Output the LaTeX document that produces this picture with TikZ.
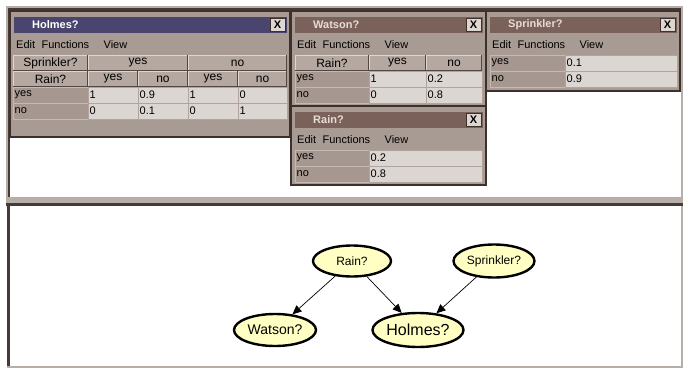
\documentclass[tikz,border=0pt]{standalone}
\usepackage{fontspec}
\setmainfont{Liberation Sans}
\usepackage{xcolor}
\usetikzlibrary{arrows.meta,positioning,shapes.geometric}

\definecolor{winbg}{RGB}{168,155,148}
\definecolor{windark}{RGB}{62,49,44}
\definecolor{actbar}{RGB}{74,69,110}
\definecolor{inabar}{RGB}{122,98,90}
\definecolor{inatext}{RGB}{232,220,214}
\definecolor{cellbg}{RGB}{220,214,210}
\definecolor{cellline}{RGB}{176,164,157}
\definecolor{lblbg}{RGB}{166,152,144}
\definecolor{lblline}{RGB}{196,186,180}
\definecolor{hdrbg}{RGB}{180,168,161}
\definecolor{btnhi}{RGB}{222,214,209}
\definecolor{btnlo}{RGB}{84,70,64}
\definecolor{panellight}{RGB}{184,174,168}
\definecolor{paneldark}{RGB}{70,58,54}
\definecolor{nodefill}{RGB}{255,255,196}

% window frame with title bar, close box and menu
\newcommand{\cptwin}[8]{%
  \draw[win] (#2,#3) rectangle (#4,#5);
  \fill[#7] (#2+4,#3+6) rectangle (#4-3,#3+22);
  \node[wintitle, text=#8, anchor=west] (#1-title) at (#2+22,#3+14) {#6};
  \draw[closebox] (#4-20,#3+7.5) rectangle (#4-5,#3+20.5);
  \node[closemark] (#1-close) at (#4-12.5,#3+14) {X};
  \node[menutext, anchor=west] (#1-edit) at (#2+6,#3+34) {Edit};
  \node[menutext, right=6pt of #1-edit] (#1-func) {Functions};
  \node[menutext, right=14pt of #1-func] (#1-view) {View};}

% raised header cell
\newcommand{\hdrcell}[6]{%
  \fill[hdrbg] (#2,#3) rectangle (#4,#5);
  \draw[btnhi, line width=1pt] (#2+0.5,#5) -- (#2+0.5,#3+0.5) -- (#4,#3+0.5);
  \draw[btnlo, line width=1pt] (#4-0.5,#3+0.5) -- (#4-0.5,#5-0.5) -- (#2,#5-0.5);
  \node[hdrtext] (#1) at ({(#2+#4)/2},{(#3+#5)/2}) {#6};}

% plain table cell, left aligned text
\newcommand{\tabcell}[7][valbox]{%
  \draw[#1] (#3,#4) rectangle (#5,#6);
  \node[celltext, anchor=west] (#2) at (#3,{(#4+#6)/2}) {#7};}

\begin{document}
\begin{tikzpicture}[x=1pt, y=-1pt, >={Triangle[length=9pt,width=8pt]},
  win/.style={fill=winbg, draw=windark, line width=1.8pt},
  wintitle/.style={font=\bfseries\fontsize{11}{12}\selectfont, inner sep=0pt},
  closebox/.style={fill=btnhi, draw=windark, line width=0.9pt},
  closemark/.style={font=\bfseries\fontsize{11}{12}\selectfont, inner sep=0pt},
  menutext/.style={font=\fontsize{11}{12}\selectfont, inner sep=0pt},
  hdrtext/.style={font=\fontsize{12}{13}\selectfont, inner sep=0pt},
  celltext/.style={font=\fontsize{11}{12}\selectfont, inner sep=1.5pt},
  valbox/.style={fill=cellbg, draw=cellline, line width=0.8pt},
  lblbox/.style={fill=lblbg, draw=lblline, line width=0.8pt},
  bnode/.style={ellipse, draw, line width=2.4pt, fill=nodefill, inner sep=0pt,
    font=\fontsize{12}{14}\selectfont}]
\useasboundingbox (0,0) rectangle (683,369);
\fill[white] (0,0) rectangle (683,369);

% upper pane
\draw[panellight, line width=2pt] (7,197) -- (7,7) -- (682,7) -- (682,197);
\draw[paneldark, line width=1.5pt] (9,197) -- (9,9) -- (681,9);
% divider bar
\fill[panellight] (6,197) rectangle (683,203);
\fill[paneldark] (6,203) rectangle (683,206);
% lower pane
\draw[paneldark, line width=2.5pt] (8.5,206) -- (8.5,366);
\draw[panellight, line width=1.5pt] (7,367) -- (682,367) -- (682,206);

% Holmes window
\cptwin{hw}{10}{11}{290}{137}{Holmes?}{actbar}{white}
\hdrcell{hw-sprk}{13}{55}{88}{71}{Sprinkler?}
\hdrcell{hw-syes}{88}{55}{188}{71}{yes}
\hdrcell{hw-sno}{188}{55}{287}{71}{no}
\hdrcell{hw-rain}{13}{71}{88}{87}{Rain?}
\hdrcell{hw-yy}{88}{71}{138}{87}{yes}
\hdrcell{hw-yn}{138}{71}{188}{87}{no}
\hdrcell{hw-ny}{188}{71}{238}{87}{yes}
\hdrcell{hw-nn}{238}{71}{287}{87}{no}
\tabcell[lblbox]{hw-lyes}{13}{87}{88}{103}{yes}
\tabcell{hw-v11}{88}{87}{138}{103}{1}
\tabcell{hw-v12}{138}{87}{188}{103}{0.9}
\tabcell{hw-v13}{188}{87}{238}{103}{1}
\tabcell{hw-v14}{238}{87}{287}{103}{0}
\tabcell[lblbox]{hw-lno}{13}{103}{88}{119}{no}
\tabcell{hw-v21}{88}{103}{138}{119}{0}
\tabcell{hw-v22}{138}{103}{188}{119}{0.1}
\tabcell{hw-v23}{188}{103}{238}{119}{0}
\tabcell{hw-v24}{238}{103}{287}{119}{1}

% Watson window
\cptwin{ww}{291}{11}{486}{106}{Watson?}{inabar}{inatext}
\hdrcell{ww-rain}{295}{55}{369}{71}{Rain?}
\hdrcell{ww-yes}{369}{55}{426}{71}{yes}
\hdrcell{ww-no}{426}{55}{482}{71}{no}
\tabcell[lblbox]{ww-lyes}{295}{71}{369}{87}{yes}
\tabcell{ww-v11}{369}{71}{426}{87}{1}
\tabcell{ww-v12}{426}{71}{482}{87}{0.2}
\tabcell[lblbox]{ww-lno}{295}{87}{369}{103}{no}
\tabcell{ww-v21}{369}{87}{426}{103}{0}
\tabcell{ww-v22}{426}{87}{482}{103}{0.8}

% Rain window
\cptwin{rw}{291}{106}{486}{185}{Rain?}{inabar}{inatext}
\tabcell[lblbox]{rw-lyes}{295}{150}{369}{166}{yes}
\tabcell{rw-vyes}{369}{150}{482}{166}{0.2}
\tabcell[lblbox]{rw-lno}{295}{166}{369}{182}{no}
\tabcell{rw-vno}{369}{166}{482}{182}{0.8}

% Sprinkler window
\cptwin{sw}{486}{11}{680}{91}{Sprinkler?}{inabar}{inatext}
\tabcell[lblbox]{sw-lyes}{490}{55}{565}{71}{yes}
\tabcell{sw-vyes}{565}{55}{677}{71}{0.1}
\tabcell[lblbox]{sw-lno}{490}{71}{565}{87}{no}
\tabcell{sw-vno}{565}{71}{677}{87}{0.9}

% network
\node[bnode, minimum width=78, minimum height=31] (rain) at (352,261) {Rain?};
\node[bnode, minimum width=81, minimum height=33] (sprinkler) at (494,261) {Sprinkler?};
\node[bnode, minimum width=82, minimum height=32, font=\fontsize{14}{16}\selectfont] (watson) at (275,330) {Watson?};
\node[bnode, minimum width=91, minimum height=34, font=\fontsize{16}{18}\selectfont] (holmes) at (418,330) {Holmes?};
\draw[->, line width=0.7pt] (rain) -- (watson);
\draw[->, line width=0.7pt] (rain) -- (holmes);
\draw[->, line width=0.7pt] (sprinkler) -- (holmes);
\end{tikzpicture}
\end{document}
